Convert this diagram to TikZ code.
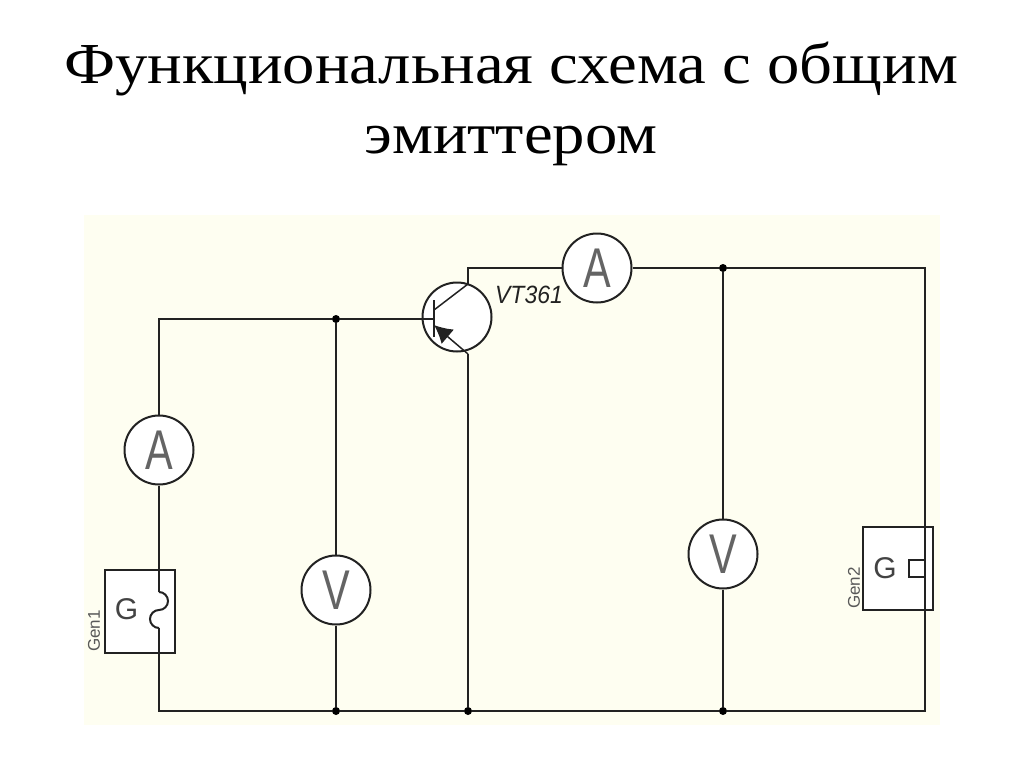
\documentclass[tikz,border=0pt]{standalone}
\usepackage{fontspec}
\usetikzlibrary{arrows.meta}
\setmainfont{Liberation Serif}
\setsansfont{Liberation Sans}
\newfontfamily\titlefont[FakeStretch=1.115]{Liberation Serif}
\newfontfamily\meterfont[FakeStretch=0.74]{Liberation Sans}
\newfontfamily\vtfont[FakeStretch=0.92]{Liberation Sans}
\definecolor{panelbg}{HTML}{FEFEF1}
\definecolor{wirecol}{HTML}{222222}
\tikzset{
  meter/.style={circle,draw=wirecol,line width=2pt,fill=white,minimum size=69pt,inner sep=0pt,font=\meterfont\fontsize{56}{56}\selectfont,text=wirecol!70},
  junction/.style={circle,fill=black,minimum size=8pt,inner sep=0pt},
  genbox/.style={rectangle,draw=wirecol,line width=2pt,fill=white,minimum width=70pt,minimum height=83pt,inner sep=0pt},
  wire/.style={draw=wirecol,line width=2pt},
  genlabel/.style={font=\sffamily\fontsize{17}{17}\selectfont,text=black!65,rotate=90,inner sep=0pt},
  gentext/.style={font=\sffamily\fontsize{30}{30}\selectfont,text=wirecol!85,inner sep=0pt}
}
\begin{document}
\begin{tikzpicture}[x=1pt,y=-1pt]
      \useasboundingbox (0,0) rectangle (1024,768);
      \fill[panelbg] (84,215) rectangle (940,725);
      \draw
        (511,103.5) node[align=center,font=\titlefont\fontsize{58}{70}\selectfont] (title){Функциональная схема с общим\\эмиттером}
        (139.5,611) node[genbox] (gen1){}
        (898,568.5) node[genbox] (gen2){}
        (457,317) node[meter] (vt){}
        (597,268) node[meter] (a2){A}
        (159,450) node[meter] (a1){A}
        (336,590) node[meter] (v1){V}
        (723,554) node[meter] (v2){V}
        (336,319) node[junction] (d1){}
        (723,268) node[junction] (d2){}
        (336,711) node[junction] (d3){}
        (468,711) node[junction] (d4){}
        (723,711) node[junction] (d5){}
        (126.5,609) node[gentext] (g1){G}
        (885,568.5) node[gentext] (g2){G}
        (94,631) node[genlabel] (gen1lbl){Gen1}
        (854,588) node[genlabel] (gen2lbl){Gen2}
        (529,294.5) node[font=\vtfont\itshape\fontsize{25}{25}\selectfont,text=wirecol,inner sep=0pt] (vtlbl){VT361};
      \coordinate (lt) at (159,319);
      \coordinate (lb) at (159,711);
      \coordinate (rt) at (925,268);
      \coordinate (rb) at (925,711);
      \coordinate (ct) at (468,268);
      \coordinate (cc) at (468,284);
      \coordinate (ee) at (468,354);
      \coordinate (bb) at (434,319);
      \coordinate (bt) at (434,300);
      \coordinate (bd) at (434,337);
      \coordinate (bc) at (434,310);
      \coordinate (be) at (434,325);
      \coordinate (g1t) at (159,592);
      \coordinate (g1b) at (159,628);
      \coordinate (g2t) at (925,560);
      \coordinate (g2b) at (925,577);
      \coordinate (g2l) at (909,560);
      \coordinate (g2k) at (909,577);
      \begin{scope}[wire]
        \draw (a1) -- (lt) -- (d1);
        \draw (d1) -- (bb);
        \draw (d1) -- (v1);
        \draw (v1) -- (d3);
        \draw (a1) -- (g1t);
        \draw (g1t) arc[start angle=-90,end angle=90,radius=9] arc[start angle=-90,end angle=-270,radius=9] -- (g1b);
        \draw (g1b) -- (lb) -- (d3);
        \draw (d3) -- (d4);
        \draw (d4) -- (d5);
        \draw (d5) -- (rb) -- (rt) -- (d2);
        \draw (d2) -- (a2);
        \draw (a2) -- (ct) -- (cc);
        \draw (d2) -- (v2);
        \draw (v2) -- (d5);
        \draw (ee) -- (d4);
        \draw (bt) -- (bd);
        \draw[line width=1.5pt] (bc) -- (cc);
        \draw[line width=1.5pt,-{Latex[length=18pt,width=19pt]}] (ee) -- (be);
        \draw (g2t) -- (g2l) -- (g2k) -- (g2b);
      \end{scope}
    \end{tikzpicture}
\end{document}
